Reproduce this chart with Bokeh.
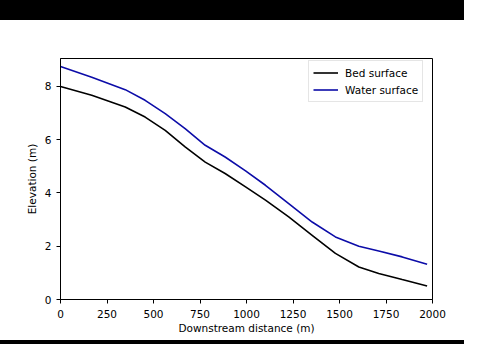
from bokeh.plotting import figure
from bokeh.models import FixedTicker, Range1d, Legend, LegendItem, Div
from bokeh.layouts import column
from bokeh.embed import file_html
from bokeh.resources import INLINE

# Data
distance = [0, 168, 348, 455, 563, 670, 778, 885, 995, 1102, 1227, 1353, 1478, 1604, 1711, 1837, 1971]
bed_surface = [8.00, 7.67, 7.23, 6.85, 6.35, 5.73, 5.16, 4.73, 4.23, 3.73, 3.10, 2.41, 1.73, 1.22, 0.98, 0.75, 0.51]
water_surface = [8.75, 8.35, 7.88, 7.48, 6.98, 6.42, 5.79, 5.35, 4.83, 4.29, 3.60, 2.91, 2.35, 2.00, 1.82, 1.60, 1.32]
x_ticks = [0, 250, 500, 750, 1000, 1250, 1500, 1750, 2000]
y_ticks = [0, 2, 4, 6, 8]

FONT = "DejaVu Sans"
FS = "10.5px"

p = figure(width=464, height=320, output_backend="svg", toolbar_location=None,
           x_range=Range1d(0, 2000), y_range=Range1d(0, 9.05),
           min_border_left=60, min_border_right=32, min_border_top=38, min_border_bottom=41)
p.xgrid.visible = False
p.ygrid.visible = False
p.outline_line_color = "black"
p.outline_line_width = 1
p.background_fill_color = "white"
p.border_fill_color = "white"

r1 = p.line(distance, bed_surface, line_color="black", line_width=1.6)
r2 = p.line(distance, water_surface, line_color="#0c0ca8", line_width=1.6)

for ax, ticks in ((p.xaxis[0], x_ticks), (p.yaxis[0], y_ticks)):
    ax.ticker = FixedTicker(ticks=ticks)
    ax.minor_tick_line_color = None
    ax.major_tick_in = 0
    ax.major_tick_out = 4
    ax.major_tick_line_color = "black"
    ax.axis_line_color = "black"
    ax.major_label_text_font = FONT
    ax.major_label_text_font_size = FS
    ax.major_label_text_color = "black"
    ax.axis_label_text_font = FONT
    ax.axis_label_text_font_size = FS
    ax.axis_label_text_font_style = "normal"
    ax.axis_label_text_color = "black"

p.xaxis.axis_label = "Downstream distance (m)"
p.yaxis.axis_label = "Elevation (m)"
p.xaxis.major_label_standoff = 6
p.yaxis.major_label_standoff = 5
p.xaxis.axis_label_standoff = 1
p.yaxis.axis_label_standoff = 4

legend = Legend(items=[LegendItem(label="Bed surface", renderers=[r1]),
                       LegendItem(label="Water surface", renderers=[r2])],
                location=(248, 197))
legend.margin = 0
legend.padding = 4
legend.spacing = 2
legend.label_height = 15
legend.glyph_height = 15
legend.glyph_width = 25
legend.label_standoff = 7
legend.label_text_font = FONT
legend.label_text_font_size = FS
legend.label_text_color = "black"
legend.border_line_color = "#cccccc"
legend.background_fill_alpha = 0.8
p.add_layout(legend)

top_bar = Div(text="", width=464, height=20, margin=(0, 0, 0, 0),
              styles={"background-color": "black"})
bottom_bar = Div(text="", width=464, height=4, margin=(0, 0, 0, 0),
                 styles={"background-color": "black"})

layout = column(top_bar, p, bottom_bar, spacing=0)

open("out.html", "w").write(file_html(layout, INLINE))
